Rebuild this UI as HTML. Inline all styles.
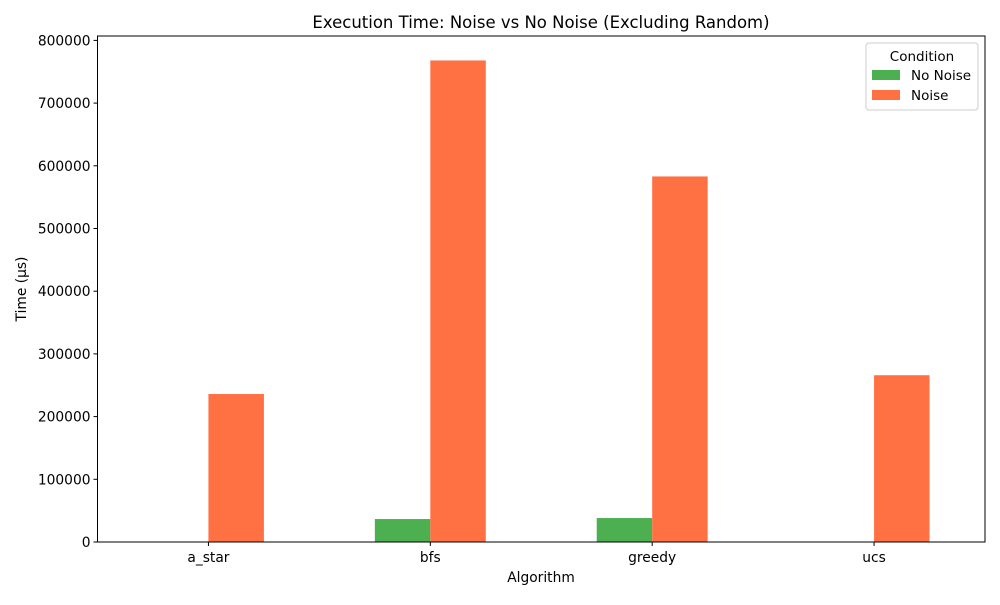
<!DOCTYPE html>
<html><head><meta charset="utf-8"><style>
body{margin:0;background:#fff;font-family:"Liberation Sans","DejaVu Sans",sans-serif;}
svg text{font-family:"DejaVu Sans","Liberation Sans",sans-serif;}
</style></head><body>
<svg id="chart" width="1000" height="600" xmlns="http://www.w3.org/2000/svg"></svg>
<script>
const categories = ["a_star","bfs","greedy","ucs"];
const noNoise = [0, 36600, 38200, 0];
const noise = [236000, 768000, 583000, 266000];
const yTicks = [0,100000,200000,300000,400000,500000,600000,700000,800000];
const seriesNames = ["No Noise","Noise"];

const svg = document.getElementById('chart');
const NS = "http://www.w3.org/2000/svg";
const L=97.5, R=985, T=36, B=542, yMax=807000;
const bw = (R-L)/categories.length;
function x(i){return L + bw*(i+0.5);}
function y(v){return B - v/yMax*(B-T);}
function mk(tag, attrs, parent){const e=document.createElementNS(NS,tag);for(const k in attrs)e.setAttribute(k,attrs[k]);(parent||svg).appendChild(e);return e;}

const colors=["#4caf50","#ff7043"];
[noNoise, noise].forEach((arr,s)=>{
  arr.forEach((v,i)=>{
    const r=mk('rect',{x: s===0 ? x(i)-bw/4 : x(i), y:y(v), width:bw/4, height:B-y(v), fill:colors[s]});
    
    
  });
});
const frame=mk('rect',{x:L,y:T,width:R-L,height:B-T,fill:'none',stroke:'#000','stroke-width':1});


yTicks.forEach(t=>{
  mk('line',{x1:L-4,x2:L,y1:y(t),y2:y(t),stroke:'#000'});
  const tx=mk('text',{x:L-7,y:y(t)+5,'text-anchor':'end','font-size':13.8});
  tx.textContent=t;
  
  
});
categories.forEach((c,i)=>{
  mk('line',{x1:x(i),x2:x(i),y1:B,y2:B+4,stroke:'#000'});
  const tx=mk('text',{x:x(i),y:B+20,'text-anchor':'middle','font-size':13.8});
  tx.textContent=c;
  
  
});
</script>
<svg style="position:absolute;left:0;top:0" width="1000" height="600" xmlns="http://www.w3.org/2000/svg">
<text x="541" y="28" text-anchor="middle" font-size="16.5">Execution Time: Noise vs No Noise (Excluding Random)</text>
<text x="541" y="582" text-anchor="middle" font-size="13.8">Algorithm</text>
<text transform="translate(26,289) rotate(-90)" text-anchor="middle" font-size="13.8">Time (µs)</text>
<g>
<rect x="866" y="43" width="112" height="67" rx="3" fill="#fff" stroke="#ccc"/>
<text x="922" y="61" text-anchor="middle" font-size="13.5">Condition</text>
<rect x="872" y="70" width="28" height="10" fill="#4caf50"/>
<text x="911" y="80" font-size="13.5">No Noise</text>
<rect x="872" y="90" width="28" height="10" fill="#ff7043"/>
<text x="911" y="100" font-size="13.5">Noise</text>
</g>
</svg>
</body></html>
